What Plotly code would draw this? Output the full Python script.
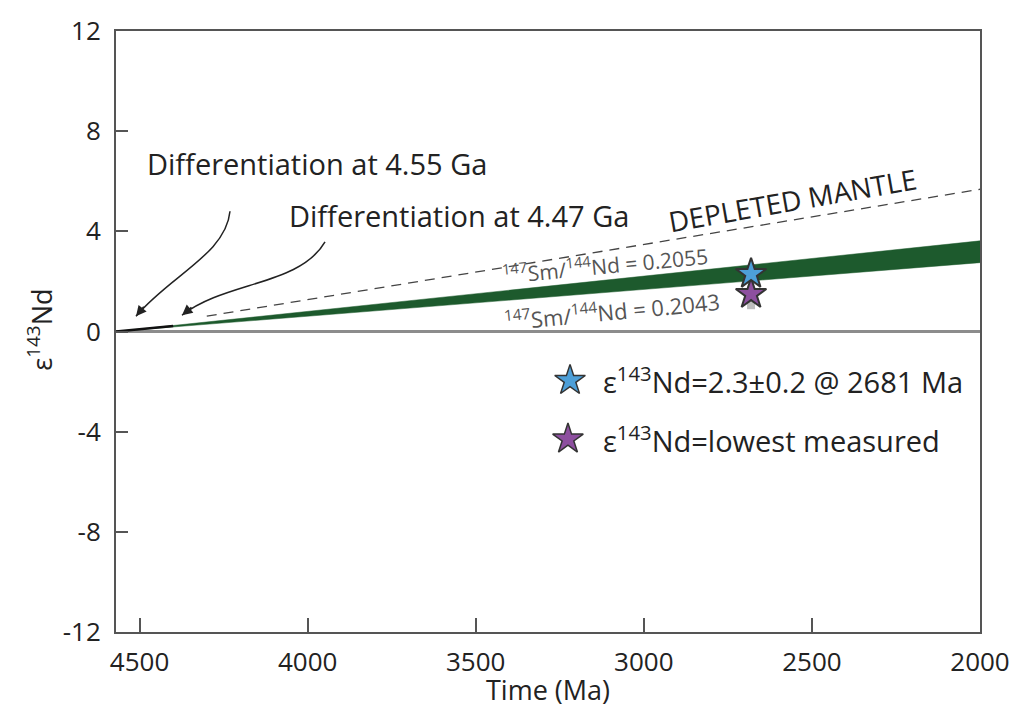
import plotly.graph_objects as go

# Nd-143 evolution model (time in Ma, epsilon units)
band_time = [4570, 2000]
band_upper = [0.0, 3.62]    # 147Sm/144Nd = 0.2055
band_lower = [0.0, 2.75]    # 147Sm/144Nd = 0.2043

early_time = [4570, 4400]
early_eps = [0.0, 0.22]

dm_time = [4300, 2000]
dm_eps = [0.61, 5.68]

sample_age = [2681]
sample_eps = [2.3]
lowest_eps = [1.5]
blank_eps = [1.05]

x_ticks = [4500, 4000, 3500, 3000, 2500, 2000]
y_ticks = [-12, -8, -4, 0, 4, 8, 12]
y_tick_labels = ["-12", "-8", "-4", "0", "4", "8", "12"]

FONT = "Open Sans"
INK = "#222222"
FRAME = "#555555"
GREEN = "#1d5a2d"
BLUE = "#4d9fd8"
PURPLE = "#8d4f9f"

fig = go.Figure()

# Sm/Nd evolution band
fig.add_trace(go.Scatter(x=band_time, y=band_lower, mode="lines",
                         line=dict(color=GREEN, width=0.5), showlegend=False,
                         hoverinfo="skip"))
fig.add_trace(go.Scatter(x=band_time, y=band_upper, mode="lines", fill="tonexty",
                         fillcolor=GREEN, line=dict(color=GREEN, width=0.5),
                         showlegend=False, hoverinfo="skip"))
fig.add_trace(go.Scatter(x=early_time, y=early_eps, mode="lines",
                         line=dict(color="#111111", width=2.5), showlegend=False,
                         hoverinfo="skip"))

# Depleted mantle
fig.add_trace(go.Scatter(x=dm_time, y=dm_eps, mode="lines",
                         line=dict(color="#444444", width=1.3, dash="10px,7px"),
                         showlegend=False, hoverinfo="skip"))

# Sample points
fig.add_trace(go.Scatter(x=sample_age, y=blank_eps, mode="markers",
                         marker=dict(symbol="square", size=8, color="#bdbdbd"),
                         showlegend=False, hoverinfo="skip"))
fig.add_trace(go.Scatter(x=sample_age, y=lowest_eps, mode="markers",
                         marker=dict(symbol="star", size=23, color=PURPLE,
                                     line=dict(color="#333333", width=2)),
                         showlegend=False))
fig.add_trace(go.Scatter(x=sample_age, y=sample_eps, mode="markers",
                         marker=dict(symbol="star", size=23, color=BLUE,
                                     line=dict(color="#333333", width=2)),
                         showlegend=False))

# Key symbols on an overlay frame spanning the plot area
fig.add_trace(go.Scatter(x=[0.5255, 0.5231], y=[0.4185, 0.321], mode="markers",
                         xaxis="x2", yaxis="y2",
                         marker=dict(symbol="star", size=23, color=[BLUE, PURPLE],
                                     line=dict(color="#333333", width=1.5)),
                         showlegend=False, hoverinfo="skip"))

annotations = [
    dict(x=4484, y=6.7, xref="x", yref="y", text="Differentiation at 4.55 Ga",
         showarrow=False, xanchor="left", yanchor="middle",
         font=dict(family=FONT, size=29, color=INK)),
    dict(x=4061, y=4.65, xref="x", yref="y", text="Differentiation at 4.47 Ga",
         showarrow=False, xanchor="left", yanchor="middle",
         font=dict(family=FONT, size=29, color=INK)),
    dict(x=2559, y=5.25, xref="x", yref="y", text="DEPLETED MANTLE",
         showarrow=False, textangle=-10,
         font=dict(family=FONT, size=28, color=INK)),
    dict(x=3115, y=2.67, xref="x", yref="y",
         text="<sup>147</sup>Sm/<sup>144</sup>Nd = 0.2055",
         showarrow=False, textangle=-5.5,
         font=dict(family=FONT, size=21, color="#555555")),
    dict(x=3095, y=0.85, xref="x", yref="y",
         text="<sup>147</sup>Sm/<sup>144</sup>Nd = 0.2043",
         showarrow=False, textangle=-5.5,
         font=dict(family=FONT, size=22, color="#555555")),
    # key labels
    dict(x=0.561, y=0.4185, xref="paper", yref="paper",
         text="ε<sup>143</sup>Nd=2.3±0.2 @ 2681 Ma", showarrow=False,
         xanchor="left", yanchor="middle",
         font=dict(family=FONT, size=29, color=INK)),
    dict(x=0.561, y=0.321, xref="paper", yref="paper",
         text="ε<sup>143</sup>Nd=lowest measured", showarrow=False,
         xanchor="left", yanchor="middle",
         font=dict(family=FONT, size=29, color=INK)),
    # axis titles
    dict(x=0.5, y=-0.0955, xref="paper", yref="paper", text="Time (Ma)",
         showarrow=False, xanchor="center", yanchor="middle",
         font=dict(family=FONT, size=27, color=INK)),
    dict(x=-0.088, y=0.503, xref="paper", yref="paper", text="ε<sup>143</sup>Nd",
         showarrow=False, textangle=-90, xanchor="center", yanchor="middle",
         font=dict(family=FONT, size=27, color=INK)),
    # arrowheads of the curved pointers
    dict(x=4510.5, y=0.61, xref="x", yref="y", text="", showarrow=True,
         ax=9, ay=-11, arrowhead=2, arrowsize=1.3, arrowwidth=1.6,
         arrowcolor=INK, standoff=0),
    dict(x=4373.7, y=0.65, xref="x", yref="y", text="", showarrow=True,
         ax=11, ay=-9, arrowhead=2, arrowsize=1.3, arrowwidth=1.6,
         arrowcolor=INK, standoff=0),
]

shapes = [
    dict(type="path", xref="x", yref="y",
         path="M 4230.9,4.80 C 4242.8,3.10 4409.4,2.23 4510.5,0.61",
         line=dict(color=INK, width=1.5)),
    dict(type="path", xref="x", yref="y",
         path="M 3948.3,3.58 C 4022.7,1.84 4245.8,2.00 4373.7,0.65",
         line=dict(color=INK, width=1.5)),
]

fig.update_layout(
    width=1034, height=721,
    margin=dict(l=116, r=54, t=25, b=89),
    paper_bgcolor="white", plot_bgcolor="white",
    font=dict(family=FONT, color=INK),
    showlegend=False,
    annotations=annotations,
    shapes=shapes,
    xaxis=dict(range=[4570, 2000], tickvals=x_ticks,
               ticks="inside", ticklen=14, tickwidth=1.5, tickcolor=FRAME,
               showline=True, linecolor=FRAME, linewidth=2, mirror=True,
               showgrid=False, zeroline=False, ticklabelstandoff=6,
               tickfont=dict(family=FONT, size=26, color=INK)),
    yaxis=dict(range=[-12, 12], tickvals=y_ticks, ticktext=y_tick_labels,
               ticks="inside", ticklen=12, tickwidth=1.5, tickcolor=FRAME,
               showline=True, linecolor=FRAME, linewidth=2, mirror=True,
               showgrid=False, zeroline=True, zerolinecolor="#8c8c8c",
               zerolinewidth=2.5, ticklabelstandoff=8,
               tickfont=dict(family=FONT, size=26, color=INK)),
    xaxis2=dict(overlaying="x", range=[0, 1], visible=False),
    yaxis2=dict(overlaying="y", range=[0, 1], visible=False),
)

fig.write_html("out.html")
